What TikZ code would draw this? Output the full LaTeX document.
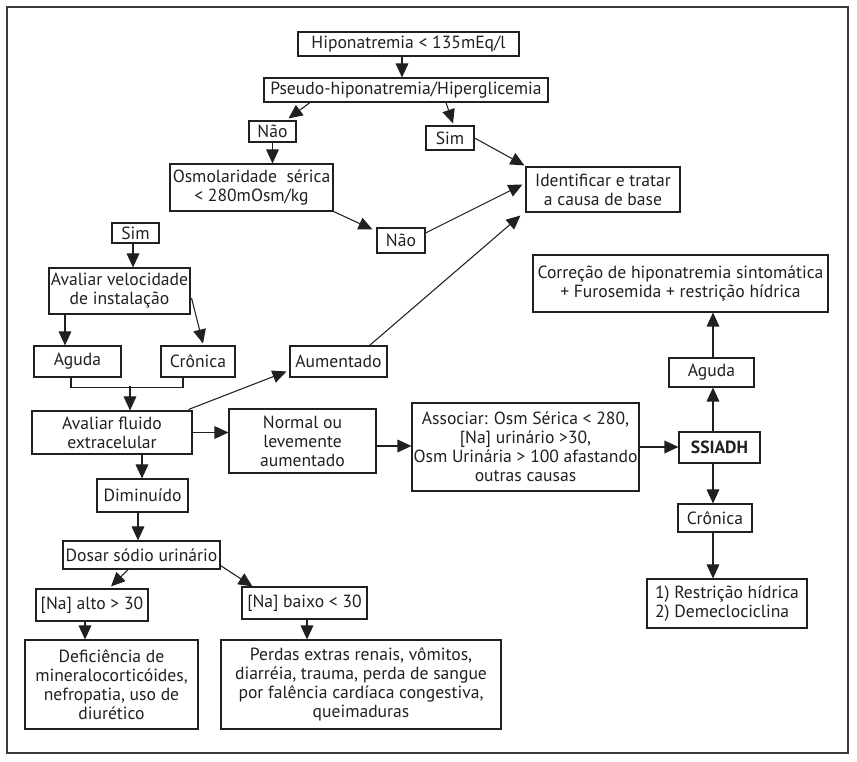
\documentclass[tikz,border=0pt]{standalone}
\usepackage{fontspec}
\setmainfont{PT Sans}
\usetikzlibrary{arrows.meta,calc}
\definecolor{ink}{HTML}{231F20}
\definecolor{framec}{HTML}{3A3A3A}
\newcommand\mybox[7][]{\node[box,minimum width={(#5-#3)*0.75pt},minimum height={(#6-#4)*0.75pt},#1] (#2) at ({(#3+#5)/2},{(#4+#6)/2}) {#7};}
\begin{document}
\begin{tikzpicture}[x=0.75pt,y=-0.75pt,
  box/.style={draw=ink, line width=0.8pt, inner sep=0pt, align=center, text=ink, font=\fontsize{13.2}{14.2}\selectfont},
  arr/.style={draw=ink, line width=0.8pt, -{Triangle[length=10.5pt,width=9.5pt]}},
  ln/.style={draw=ink, line width=0.8pt},
  frame/.style={draw=framec, line width=0.9pt}]
\useasboundingbox (0,0) rectangle (857,762);
\draw[frame] (7,7) rectangle (848,753);

\mybox{hip}{298}{32}{519}{56}{Hiponatremia < 135mEq/l}
\mybox{pseudo}{264}{78}{548}{102}{Pseudo-hiponatremia/Hiperglicemia}
\mybox{naoA}{249}{121}{296}{142}{Não}
\mybox{simA}{426}{126}{474}{150}{Sim}
\mybox{osm}{170}{164}{333}{211}{Osmolaridade\ \ sérica\\< 280mOsm/kg}
\mybox{ident}{526}{167}{680}{212}{Identificar e tratar\\a causa de base}
\mybox{naoB}{377}{228}{425}{253}{Não}
\mybox{simB}{112}{223}{159}{243}{Sim}
\mybox{avelo}{49}{268}{190}{314}{Avaliar velocidade\\de instalação}
\mybox{agudaL}{34}{346}{121}{377}{Aguda}
\mybox{cronL}{161}{346}{235}{377}{Crônica}
\mybox{aument}{290}{346}{387}{377}{Aumentado}
\mybox{fluido}{32}{411}{192}{454}{Avaliar fluido\\extracelular}
\mybox{normal}{229}{409}{376}{473}{Normal ou\\levemente\\aumentado}
\mybox{assoc}{412}{403}{639}{491}{Associar: Osm Sérica < 280,\\{[Na]} urinário >30,\\Osm Urinária > 100 afastando\\outras causas}
\mybox[font=\fontsize{13.2}{14.2}\selectfont\bfseries]{ssiadh}{679}{432}{760}{463}{SSIADH}
\mybox{agudaR}{669}{358}{754}{387}{Aguda}
\mybox{corr}{533}{255}{828}{312}{Correção de hiponatremia sintomática\\+ Furosemida + restrição hídrica}
\mybox{cronR}{678}{504}{752}{532}{Crônica}
\mybox[align=left]{restr}{647}{579}{807}{628}{1) Restrição hídrica\\2) Demeclociclina}
\mybox{dimin}{97}{479}{188}{512}{Diminuído}
\mybox{dosar}{63}{541}{220}{569}{Dosar sódio urinário}
\mybox{naalto}{36}{589}{148}{621}{{[Na]} alto > 30}
\mybox{nabaixo}{242}{587}{367}{619}{{[Na]} baixo < 30}
\mybox{defic}{25}{640}{198}{729}{Deficiência de\\mineralocorticóides,\\nefropatia, uso de\\diurético}
\mybox{perdas}{221}{640}{501}{729}{Perdas extras renais, vômitos,\\diarréia, trauma, perda de sangue\\por falência cardíaca congestiva,\\queimaduras}

% connectors
\draw[arr] ($(hip.south)+(-6.5,0)$) -- ($(pseudo.north)+(-4,0)$);
\draw[arr] ($(pseudo.south)+(-96,0)$) -- ($(naoA.north)+(16,-2)$);
\draw[arr] ($(pseudo.south)+(40,0)$) -- ($(simA.north)+(3,-2)$);
\draw[arr] (naoA.south) -- ($(osm.north)+(21,0)$);
\draw[arr] (osm.south east) -- ($(naoB.north west)+(-4,2)$);
\draw[arr] ($(naoB.east)+(-1,-7)$) -- ($(ident.west)+(-3,-5)$);
\draw[arr] (simA.east) -- ($(ident.north west)+(-1,-1)$);
\draw[arr] ($(simB.south)+(-2.5,0)$) -- ($(avelo.north)+(13.5,0)$);
\draw[arr] ($(avelo.south)+(-54.5,0)$) -- ($(agudaL.north)+(-12.5,0)$);
\draw[arr] ($(avelo.east)+(1,7)$) -- ($(cronL.north)+(5,-2)$);
\draw[ln] ($(agudaL.south)+(-6.5,0)$) |- ($(cronL.south)+(-15,10)$) -- ($(cronL.south)+(-15,0)$);
\draw[arr] ($(fluido.north)+(18,-24)$) -- ($(fluido.north)+(18,0)$);
\draw[arr] ($(fluido.north east)+(-4,-1)$) -- ($(aument.west)+(-3,10)$);
\draw[arr] ($(aument.north east)+(-18,0)$) -- ($(ident.south west)+(-5,3)$);
\draw[arr] (fluido.east) -- (fluido.east -| normal.west);
\draw[arr] ($(normal.east)+(0,5)$) -- ($(assoc.west)+(0,-1)$);
\draw[arr] (assoc.east) -- (assoc.east -| ssiadh.west);
\draw[arr] ($(ssiadh.north)+(-6.5,0)$) -- ($(agudaR.south)+(1.5,0)$);
\draw[arr] ($(agudaR.north)+(1.5,0)$) -- ($(corr.south)+(32.5,0)$);
\draw[arr] ($(ssiadh.south)+(-6.5,0)$) -- ($(cronR.north)+(-2,0)$);
\draw[arr] ($(cronR.south)+(-2,0)$) -- ($(restr.north)+(-14,0)$);
\draw[arr] ($(fluido.south)+(30,0)$) -- ($(dimin.north)+(-0.5,0)$);
\draw[arr] ($(dimin.south)+(-4.5,0)$) -- ($(dosar.north)+(-3.5,0)$);
\draw[arr] ($(dosar.south)+(-13.5,0)$) -- ($(naalto.north)+(19,-2)$);
\draw[arr] ($(dosar.south east)+(0,-4)$) -- ($(nabaixo.north west)+(11,0)$);
\draw[arr] ($(naalto.south)+(-7,0)$) -- ($(defic.north)+(-26.5,0)$);
\draw[arr] ($(nabaixo.south)+(2.5,0)$) -- ($(perdas.north)+(-54,0)$);
\end{tikzpicture}
\end{document}
